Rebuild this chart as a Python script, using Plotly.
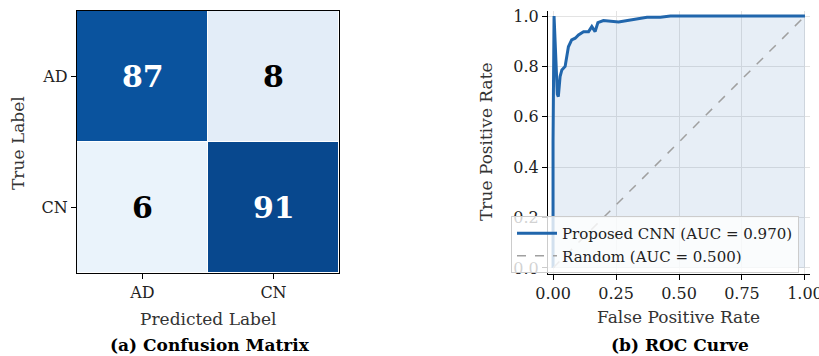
import plotly.graph_objects as go

# ---------------- data ----------------
cm_labels = ["AD", "CN"]
cm_values = [[87, 8], [6, 91]]

roc_fpr = [0.0, 0.0, 0.004, 0.017, 0.021, 0.028, 0.035, 0.048, 0.061, 0.074, 0.088,
           0.101, 0.121, 0.141, 0.154, 0.167, 0.178, 0.20, 0.26, 0.333, 0.373,
           0.426, 0.466, 0.60, 0.80, 1.0]
roc_tpr = [0.0, 0.5, 1.0, 0.69, 0.68, 0.76, 0.786, 0.80, 0.878, 0.905, 0.912,
           0.925, 0.938, 0.938, 0.958, 0.938, 0.974, 0.982, 0.976, 0.988, 0.995,
           0.995, 1.0, 1.0, 1.0, 1.0]
rand_fpr = [0.0, 1.0]
rand_tpr = [0.0, 1.0]
cnn_name = "Proposed CNN (AUC = 0.970)"
rand_name = "Random (AUC = 0.500)"

x_ticks = [0.0, 0.25, 0.5, 0.75, 1.0]
x_tick_text = ["0.00", "0.25", "0.50", "0.75", "1.00"]
y_ticks = [0.0, 0.2, 0.4, 0.6, 0.8, 1.0]
y_tick_text = ["0.0", "0.2", "0.4", "0.6", "0.8", "1.0"]

W, H = 819, 356
FONT = "DejaVu Serif"


def px(x):
    return x / W


def py(y):
    return 1 - y / H


fig = go.Figure()

# ---------------- confusion matrix ----------------
zmin, zmax = 6, 91
fig.add_trace(go.Heatmap(
    z=cm_values, x=cm_labels, y=cm_labels,
    zmin=zmin, zmax=zmax,
    colorscale=[[0.0, "#eaf3fb"], [0.0235, "#e3edf8"], [0.953, "#0a539e"], [1.0, "#08488e"]],
    showscale=False, xgap=1, ygap=1, hoverinfo="skip",
    xaxis="x", yaxis="y",
))
for i, row in enumerate(cm_values):
    for j, v in enumerate(row):
        fig.add_annotation(
            x=cm_labels[j], y=cm_labels[i], xref="x", yref="y",
            text=f"<b>{v}</b>", showarrow=False,
            font=dict(family=FONT, size=30, color="white" if v > 50 else "black"),
        )

# ---------------- ROC ----------------
line_col = "#2166ac"
fig.add_trace(go.Scatter(
    x=roc_fpr, y=roc_tpr, mode="lines", line=dict(width=0),
    fill="tozeroy", fillcolor="rgba(33,102,172,0.11)",
    showlegend=False, hoverinfo="skip", xaxis="x2", yaxis="y2",
))
fig.add_trace(go.Scatter(
    x=roc_fpr, y=roc_tpr, mode="lines", name=cnn_name,
    line=dict(color=line_col, width=3), xaxis="x2", yaxis="y2",
))
fig.add_trace(go.Scatter(
    x=rand_fpr, y=rand_tpr, mode="lines", name=rand_name,
    line=dict(color="#a0a0a0", width=1.5, dash="dash"), xaxis="x2", yaxis="y2",
))

tick_font = dict(family=FONT, size=16, color="#222222")

fig.update_layout(
    width=W, height=H,
    margin=dict(l=0, r=0, t=0, b=0, autoexpand=False),
    paper_bgcolor="white", plot_bgcolor="white",
    font=dict(family=FONT, size=16, color="#222222"),
    xaxis=dict(
        domain=[px(77), px(339)], anchor="y", automargin=False,
        showline=True, linecolor="black", linewidth=1.2, mirror=True,
        ticks="outside", ticklen=5, tickcolor="black", tickfont=tick_font,
        showgrid=False, zeroline=False,
    ),
    yaxis=dict(
        domain=[py(273), py(11)], anchor="x", autorange="reversed", automargin=False,
        showline=True, linecolor="black", linewidth=1.2, mirror=True,
        ticks="outside", ticklen=5, tickcolor="black", tickfont=tick_font,
        showgrid=False, zeroline=False,
    ),
    xaxis2=dict(
        domain=[px(548), px(810)], anchor="y2", range=[-0.02, 1.02], automargin=False,
        tickvals=x_ticks, ticktext=x_tick_text, ticklabeloverflow="allow",
        showline=True, linecolor="black", linewidth=1.2, mirror=False,
        ticks="outside", ticklen=5, tickcolor="black", tickfont=tick_font,
        showgrid=True, gridcolor="#e3e3e3", gridwidth=1, zeroline=False,
    ),
    yaxis2=dict(
        domain=[py(274), py(11)], anchor="x2", range=[-0.024, 1.02], automargin=False,
        tickvals=y_ticks, ticktext=y_tick_text, ticklabeloverflow="allow",
        showline=True, linecolor="black", linewidth=1.2, mirror=False,
        ticks="outside", ticklen=5, tickcolor="black", tickfont=tick_font,
        showgrid=True, gridcolor="#e3e3e3", gridwidth=1, zeroline=False,
    ),
    legend=dict(
        x=px(511), y=py(216), xanchor="left", yanchor="top",
        bgcolor="rgba(255,255,255,0.8)", bordercolor="#cccccc", borderwidth=1,
        font=dict(family=FONT, size=15, color="#222222"),
        tracegroupgap=0, itemwidth=40,
    ),
)

ann_font = dict(family=FONT, size=17, color="#333333")
title_font = dict(family=FONT, size=17, color="black")
fig.add_annotation(x=px(208), y=py(319), xref="paper", yref="paper", text="Predicted Label",
                   showarrow=False, font=ann_font, xanchor="center", yanchor="middle")
fig.add_annotation(x=px(18), y=py(143), xref="paper", yref="paper", text="True Label",
                   showarrow=False, font=ann_font, textangle=-90, xanchor="center", yanchor="middle")
fig.add_annotation(x=px(210), y=py(345), xref="paper", yref="paper", text="<b>(a) Confusion Matrix</b>",
                   showarrow=False, font=title_font, xanchor="center", yanchor="middle")
fig.add_annotation(x=px(678), y=py(317), xref="paper", yref="paper", text="False Positive Rate",
                   showarrow=False, font=ann_font, xanchor="center", yanchor="middle")
fig.add_annotation(x=px(486), y=py(142), xref="paper", yref="paper", text="True Positive Rate",
                   showarrow=False, font=ann_font, textangle=-90, xanchor="center", yanchor="middle")
fig.add_annotation(x=px(680), y=py(345), xref="paper", yref="paper", text="<b>(b) ROC Curve</b>",
                   showarrow=False, font=title_font, xanchor="center", yanchor="middle")

fig.write_html(
    "out.html",
    config={"displayModeBar": False},
    post_script="document.body.style.margin='0';document.body.style.overflow='hidden';",
)
